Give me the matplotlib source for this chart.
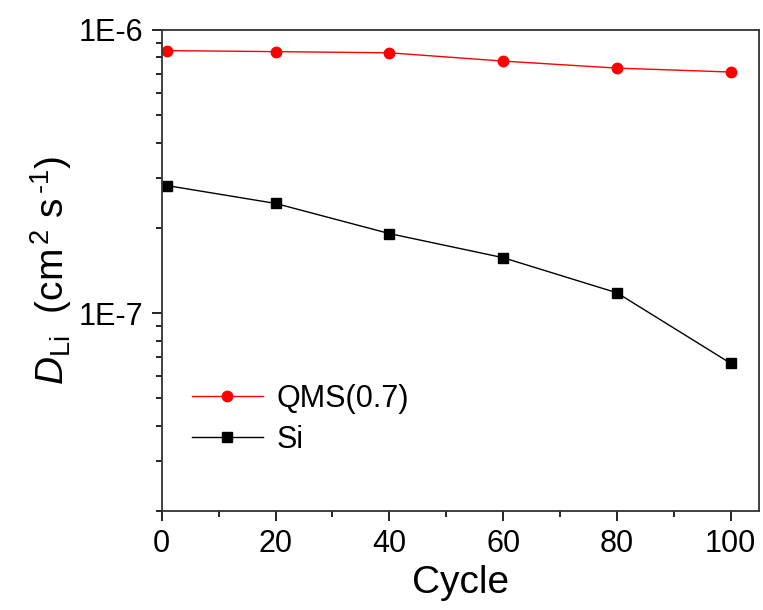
import numpy as np
import matplotlib.pyplot as plt
from matplotlib.ticker import FixedLocator, LogLocator, NullFormatter, FuncFormatter

plt.rcParams['font.family'] = ['Liberation Sans', 'DejaVu Sans']
plt.rcParams['mathtext.fontset'] = 'custom'
plt.rcParams['mathtext.rm'] = 'Liberation Sans'
plt.rcParams['mathtext.it'] = 'Liberation Sans:italic'

# data
cycles = [1, 20, 40, 60, 80, 100]
qms = [8.45e-7, 8.38e-7, 8.3e-7, 7.76e-7, 7.33e-7, 7.1e-7]
si = [2.82e-7, 2.44e-7, 1.91e-7, 1.57e-7, 1.18e-7, 6.65e-8]
x_ticks = [0, 20, 40, 60, 80, 100]

fig = plt.figure(figsize=(7.63, 6.10), dpi=100)
ax = fig.add_axes([0.212, 0.162, 0.783, 0.789])

ax.plot(cycles, qms, color='red', marker='o', markersize=7.5, lw=1.0, label='QMS(0.7)')
ax.plot(cycles, si, color='black', marker='s', markersize=7, lw=1.0, label='Si')

ax.set_yscale('log')
ax.set_ylim(2e-8, 1e-6)
ax.set_xlim(0, 105)

ax.yaxis.set_major_locator(FixedLocator([1e-7, 1e-6]))
ax.yaxis.set_major_formatter(FuncFormatter(lambda v, p: '1E%d' % round(np.log10(v))))
ax.yaxis.set_minor_locator(LogLocator(base=10, subs=np.arange(2, 10)))
ax.yaxis.set_minor_formatter(NullFormatter())

ax.set_xticks(x_ticks)
ax.set_xticks(np.arange(10, 105, 20), minor=True)

ax.tick_params(which='major', direction='out', length=7, width=1.2, labelsize=22, pad=6)
ax.tick_params(which='minor', direction='out', length=4, width=1.2)
ax.tick_params(top=False, right=False)
for s in ax.spines.values():
    s.set_linewidth(1.3)
    s.set_color('#333333')

ax.set_xlabel('Cycle', fontsize=28, labelpad=4)
ax.set_ylabel(r'$D_{\rm Li}$  (cm$^{\,2}$ s$^{\,\mathrm{\text{-}}1}$)', fontsize=28, labelpad=4)

ax.legend(loc='lower left', bbox_to_anchor=(0.005, 0.06), frameon=False, fontsize=22,
          handlelength=2.3, handletextpad=0.45, labelspacing=0.35)

fig.savefig('out.png', dpi=100)
